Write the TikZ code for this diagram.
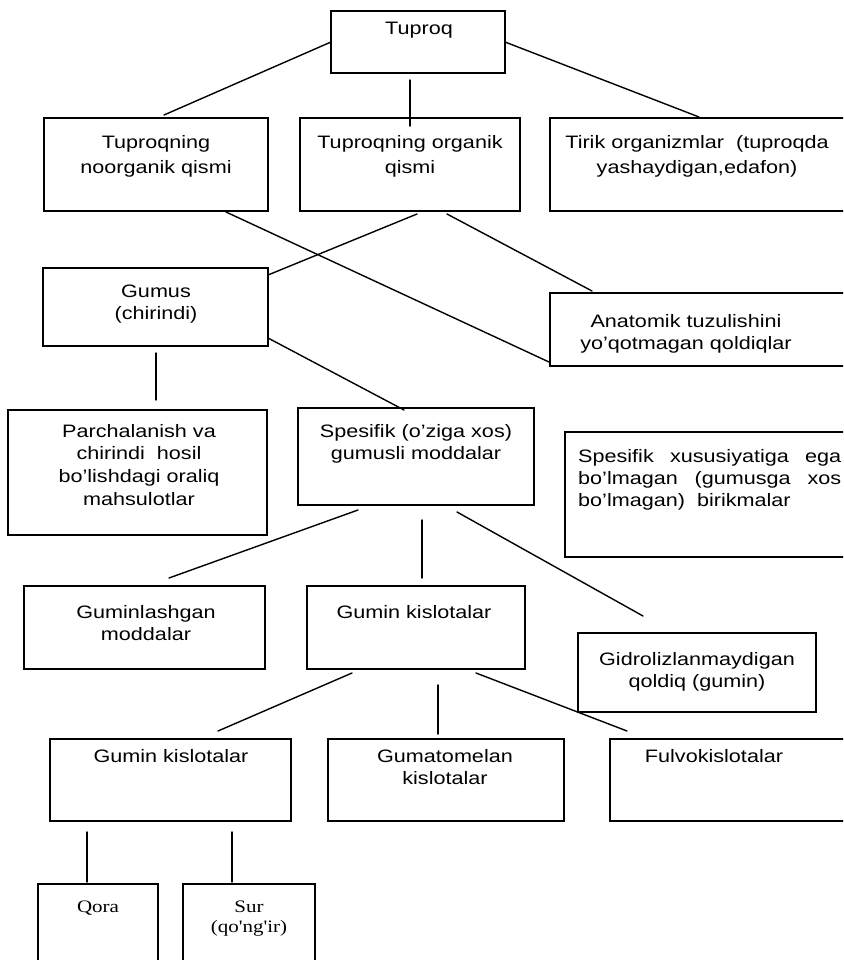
\documentclass[tikz,border=0pt]{standalone}
\usepackage{fontspec}
\setmainfont[FakeStretch=1.2]{Liberation Sans}
\newfontfamily\timesf[FakeStretch=1.2]{Liberation Serif}
\usetikzlibrary{calc}
\newcommand\ubox[5]{\node[box, minimum width=#4-#2, minimum height=#5-#3] (#1) at (#2,#3) {};}
\begin{document}
\begin{tikzpicture}[x=1pt,y=-1pt,
  box/.style={draw=black, line width=1.4pt, anchor=north west, inner sep=0pt, outer sep=0pt},
  txt/.style={anchor=north, inner sep=0pt, align=center, font=\fontsize{18}{25}\selectfont},
  txtb/.style={txt, font=\fontsize{18}{22.7}\selectfont},
  ser/.style={anchor=north, inner sep=0pt, align=center, font=\timesf\fontsize{17.5}{20}\selectfont},
  ln/.style={line width=1.4pt, line cap=round}]
\useasboundingbox (0,0) rectangle (843,960);
\clip (0,0) rectangle (843,960);
\fill[white] (0,0) rectangle (843,960);
% boxes
\ubox{tuproq}{331}{11}{505}{73}
\ubox{noorg}{44}{118}{268}{211}
\ubox{org}{300}{118}{520}{211}
\ubox{tirik}{550}{118}{870}{211}
\ubox{gumus}{43}{268}{268}{346}
\ubox{anat}{550}{293}{870}{366}
\ubox{parch}{8}{410}{267}{535}
\ubox{spes}{298}{408}{534}{505}
\ubox{spesx}{565}{432}{870}{557}
\ubox{guminl}{24}{586}{265}{669}
\ubox{guminm}{307}{586}{525}{669}
\ubox{gidro}{578}{633}{816}{712}
\ubox{guminb}{50}{739}{291}{821}
\ubox{gumat}{328}{739}{564}{821}
\ubox{fulvo}{610}{739}{870}{821}
\ubox{qora}{38}{884}{158}{980}
\ubox{sur}{183}{884}{315}{980}
% texts
\node[txt] (tuproq-t) at (419,20) {\rule{0pt}{14pt}Tuproq};
\node[txt] (noorg-t) at (156,134) {\rule{0pt}{14pt}Tuproqning\\noorganik qismi};
\node[txt] (org-t) at (410,134) {\rule{0pt}{14pt}Tuproqning organik\\qismi};
\node[txt] (tirik-t) at (697,134) {\rule{0pt}{14pt}Tirik organizmlar\ \ (tuproqda\\yashaydigan,edafon)};
\node[txtb] (gumus-t) at (156,283) {\rule{0pt}{14pt}Gumus\\(chirindi)};
\node[txtb] (anat-t) at (686,313) {\rule{0pt}{14pt}Anatomik tuzulishini\\yo'qotmagan qoldiqlar};
\node[txtb] (parch-t) at (139,423) {\rule{0pt}{14pt}Parchalanish va\\chirindi\ \ hosil\\bo'lishdagi oraliq\\mahsulotlar};
\node[txtb] (spes-t) at (416,423) {\rule{0pt}{14pt}Spesifik (o'ziga xos)\\gumusli moddalar};
\node[anchor=north west, inner sep=0pt, align=left, font=\fontsize{18}{22}\selectfont] (spesx-t) at (578,448)
  {\rule{0pt}{14pt}\makebox[263pt][s]{Spesifik xususiyatiga ega}\\\makebox[263pt][s]{bo'lmagan (gumusga xos}\\bo'lmagan)\ \ birikmalar};
\node[txtb] (guminl-t) at (146,604) {\rule{0pt}{14pt}Guminlashgan\\moddalar};
\node[txtb] (guminm-t) at (414,604) {\rule{0pt}{14pt}Gumin kislotalar};
\node[txtb] (gidro-t) at (697,651) {\rule{0pt}{14pt}Gidrolizlanmaydigan\\qoldiq (gumin)};
\node[txtb] (guminb-t) at (171,748) {\rule{0pt}{14pt}Gumin kislotalar};
\node[txtb] (gumat-t) at (445,748) {\rule{0pt}{14pt}Gumatomelan\\kislotalar};
\node[txtb] (fulvo-t) at (714,748) {\rule{0pt}{14pt}Fulvokislotalar};
\node[ser] (qora-t) at (98,899) {\rule{0pt}{13pt}Qora};
\node[ser] (sur-t) at (249,899) {\rule{0pt}{13pt}Sur\\(qo'ng'ir)};
% connectors
\draw[ln] (tuproq.west) -- ($(noorg.north west)+(120,-3)$);
\draw[ln] ($(org.north)+(0,-38)$) -- ($(org.north)+(0,8)$);
\draw[ln] (tuproq.east) -- ($(tirik.north west)+(149,-1)$);
\draw[ln] ($(noorg.south west)+(182,1)$) -- ($(anat.south west)+(-1,-4)$);
\draw[ln] ($(org.south west)+(117,3)$) -- ($(gumus.north east)+(0,7)$);
\draw[ln] ($(org.south)+(37,3)$) -- ($(anat.north west)+(42,-2)$);
\draw[ln] ($(gumus.south)+(0.5,7)$) -- ($(parch.north)+(18.5,-10)$);
\draw[ln] ($(gumus.south east)+(0,-8)$) -- ($(spes.north west)+(106,2)$);
\draw[ln] ($(spes.south west)+(60,5)$) -- ($(guminl.north west)+(145,-8)$);
\draw[ln] ($(spes.south)+(6,15)$) -- ($(guminm.north)+(6,-8)$);
\draw[ln] ($(spes.south west)+(159,7)$) -- ($(gidro.north west)+(65,-17)$);
\draw[ln] ($(guminm.south west)+(45,4)$) -- ($(guminb.north west)+(168,-8)$);
\draw[ln] ($(guminm.south)+(22,16)$) -- ($(gumat.north)+(-8,-5)$);
\draw[ln] ($(guminm.south west)+(169,4)$) -- ($(fulvo.north west)+(17,-8)$);
\draw[ln] ($(guminb.south west)+(37,11)$) -- ($(qora.north west)+(49,-2)$);
\draw[ln] ($(guminb.south west)+(182,11)$) -- ($(sur.north west)+(49,-2)$);
\end{tikzpicture}
\end{document}
